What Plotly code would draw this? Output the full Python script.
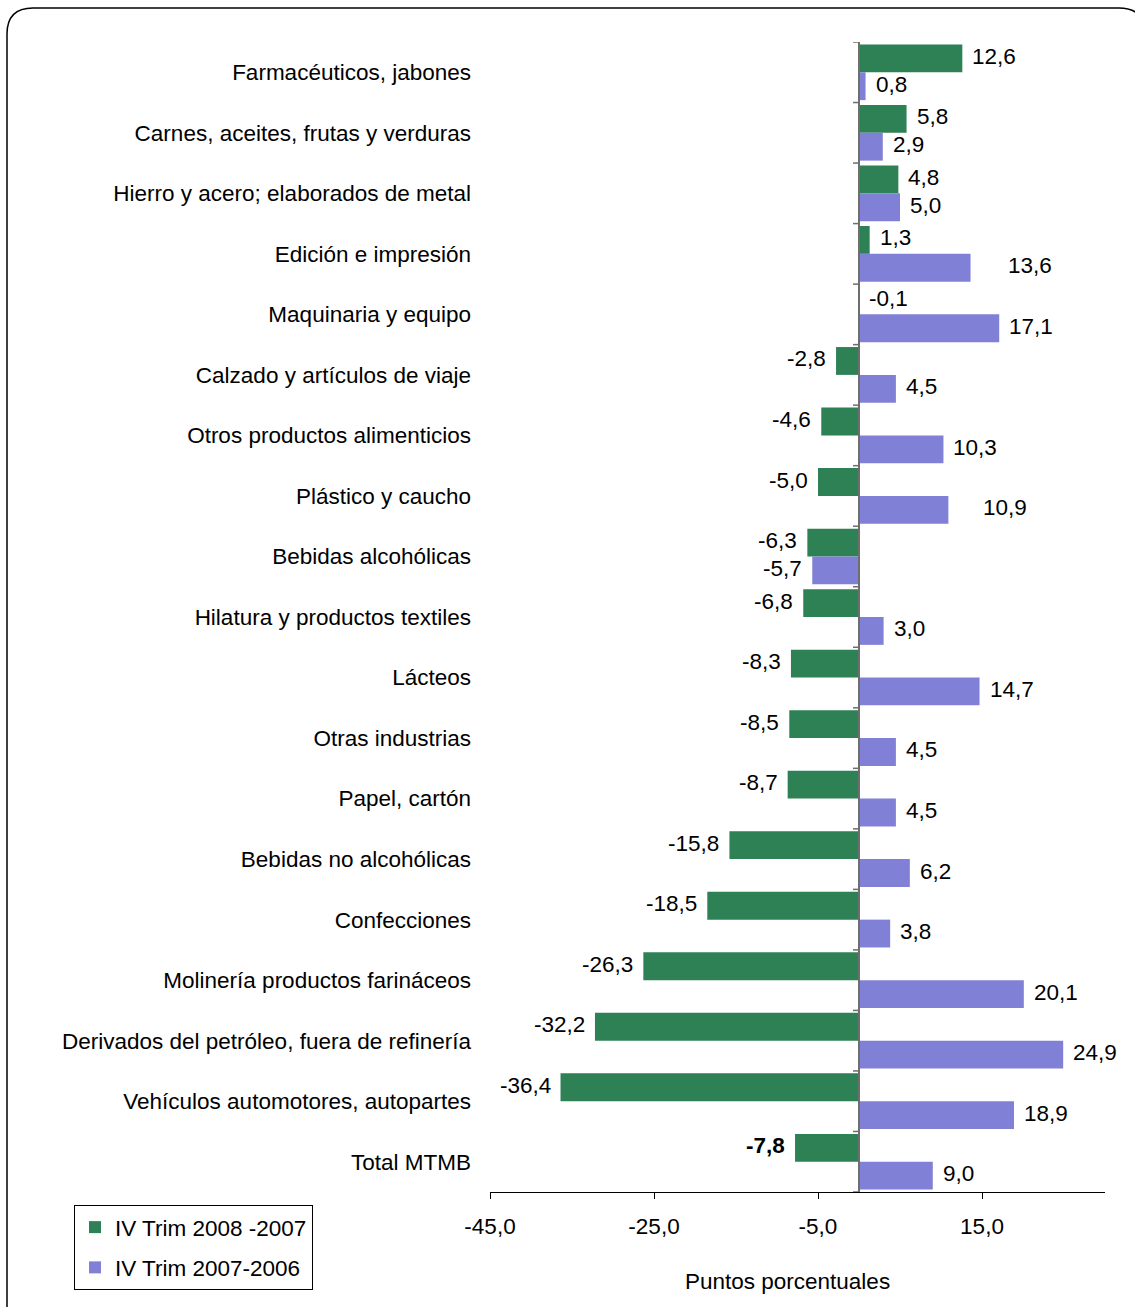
import plotly.graph_objects as go

categorias = [
    "Farmacéuticos, jabones",
    "Carnes, aceites, frutas y verduras",
    "Hierro y acero; elaborados de metal",
    "Edición e impresión",
    "Maquinaria y equipo",
    "Calzado y artículos de viaje",
    "Otros productos alimenticios",
    "Plástico y caucho",
    "Bebidas alcohólicas",
    "Hilatura y productos textiles",
    "Lácteos",
    "Otras industrias",
    "Papel, cartón",
    "Bebidas no alcohólicas",
    "Confecciones",
    "Molinería productos farináceos",
    "Derivados del petróleo, fuera de refinería",
    "Vehículos automotores, autopartes",
    "Total MTMB",
]
serie_2008_2007 = [12.6, 5.8, 4.8, 1.3, -0.1, -2.8, -4.6, -5.0, -6.3, -6.8,
                   -8.3, -8.5, -8.7, -15.8, -18.5, -26.3, -32.2, -36.4, -7.8]
serie_2007_2006 = [0.8, 2.9, 5.0, 13.6, 17.1, 4.5, 10.3, 10.9, -5.7, 3.0,
                   14.7, 4.5, 4.5, 6.2, 3.8, 20.1, 24.9, 18.9, 9.0]
ticks_x = [-45, -25, -5, 15]
nombre_2008 = "IV Trim 2008 -2007"
nombre_2007 = "IV Trim 2007-2006"
eje_titulo = "Puntos porcentuales"

FONT = "Liberation Sans, Arial, sans-serif"
FS = 22.5
VERDE = "#2e8055"
MORADO = "#8080d6"

W, H = 1135, 1307
L, R, T, B = 490, 30, 42, 115
PW, PH = W - L - R, H - T - B


def px_x(p):
    return (p - L) / PW


def px_y(p):
    return (H - B - p) / PH


def fmt(v):
    return f"{v:.1f}".replace(".", ",")


fig = go.Figure()
fig.add_trace(go.Bar(y=categorias, x=serie_2008_2007, orientation="h",
                     name=nombre_2008, marker=dict(color=VERDE, line=dict(width=0)),
                     legendgroup="a"))
fig.add_trace(go.Bar(y=categorias, x=serie_2007_2006, orientation="h",
                     name=nombre_2007, marker=dict(color=MORADO, line=dict(width=0)),
                     legendgroup="b"))

BARGAP = 0.08
half = (1 - BARGAP) / 4

# label tweaks (pixel shifts) mimicking the manual placement in the original
extra = {("b", 3): 27, ("b", 7): 25}
anns = []
for key, serie, off in (("a", serie_2008_2007, -half), ("b", serie_2007_2006, half)):
    for i, v in enumerate(serie):
        txt = fmt(v)
        if key == "a" and categorias[i] == "Total MTMB":
            txt = f"<b>{txt}</b>"
        if v >= 0 or abs(v) < 0.5:
            xa, xs = "left", 8 + extra.get((key, i), 0)
            xv = max(v, 0)
        else:
            xa, xs = "right", -8
            xv = v
        anns.append(dict(x=xv, y=i + off, xref="x", yref="y", text=txt,
                         showarrow=False, xanchor=xa, xshift=xs, yshift=2,
                         font=dict(family=FONT, size=FS, color="black")))

anns.append(dict(x=px_x(787), y=px_y(1281), xref="paper", yref="paper",
                 text=eje_titulo, showarrow=False, xanchor="center", yanchor="middle",
                 font=dict(family=FONT, size=FS, color="black")))

shapes = []
for i in range(len(categorias) + 1):
    shapes.append(dict(type="line", xref="x", yref="y", xsizemode="pixel", xanchor=0,
                       x0=-6, x1=0, y0=i - 0.5, y1=i - 0.5,
                       line=dict(color="#6e6e6e", width=1.5)))
shapes.append(dict(type="line", xref="x", yref="paper", x0=0, x1=0, y0=0, y1=1,
                   line=dict(color="#6e6e6e", width=2), layer="above"))

path = (f"M {px_x(7)},{px_y(1340)} L {px_x(7)},{px_y(34)} "
        f"Q {px_x(7)},{px_y(8)} {px_x(33)},{px_y(8)} "
        f"L {px_x(1119)},{px_y(8)} Q {px_x(1145)},{px_y(8)} {px_x(1145)},{px_y(34)} "
        f"L {px_x(1145)},{px_y(1340)} Z")
shapes.append(dict(type="path", xref="paper", yref="paper", path=path,
                   line=dict(color="black", width=1.5), fillcolor="rgba(0,0,0,0)"))

fig.update_layout(
    width=W, height=H,
    margin=dict(l=L, r=R, t=T, b=B, pad=0),
    paper_bgcolor="white", plot_bgcolor="white",
    barmode="group", bargap=BARGAP, bargroupgap=0,
    separators=",.",
    font=dict(family=FONT, size=FS, color="black"),
    xaxis=dict(range=[-45, 30], tickmode="array", tickvals=ticks_x,
               ticktext=[fmt(t) for t in ticks_x],
               showgrid=False, zeroline=False, showline=True, linecolor="black",
               linewidth=1, ticks="outside", ticklen=6, tickcolor="black",
               ticklabelstandoff=8, tickfont=dict(family=FONT, size=FS, color="black")),
    yaxis=dict(autorange=False, range=[len(categorias) - 0.5, -0.5], showgrid=False,
               zeroline=False, showline=False, ticks="", ticklabelstandoff=18,
               tickfont=dict(family=FONT, size=FS, color="black")),
    legend=dict(x=px_x(74), y=px_y(1205), xanchor="left", yanchor="top",
                bordercolor="black", borderwidth=1, bgcolor="white",
                traceorder="grouped", tracegroupgap=8, itemwidth=30,
                font=dict(family=FONT, size=FS, color="black")),
    showlegend=True,
    annotations=anns,
    shapes=shapes,
)

fig.write_html("out.html", config={"displayModeBar": False},
               post_script="document.body.style.margin='0';")
